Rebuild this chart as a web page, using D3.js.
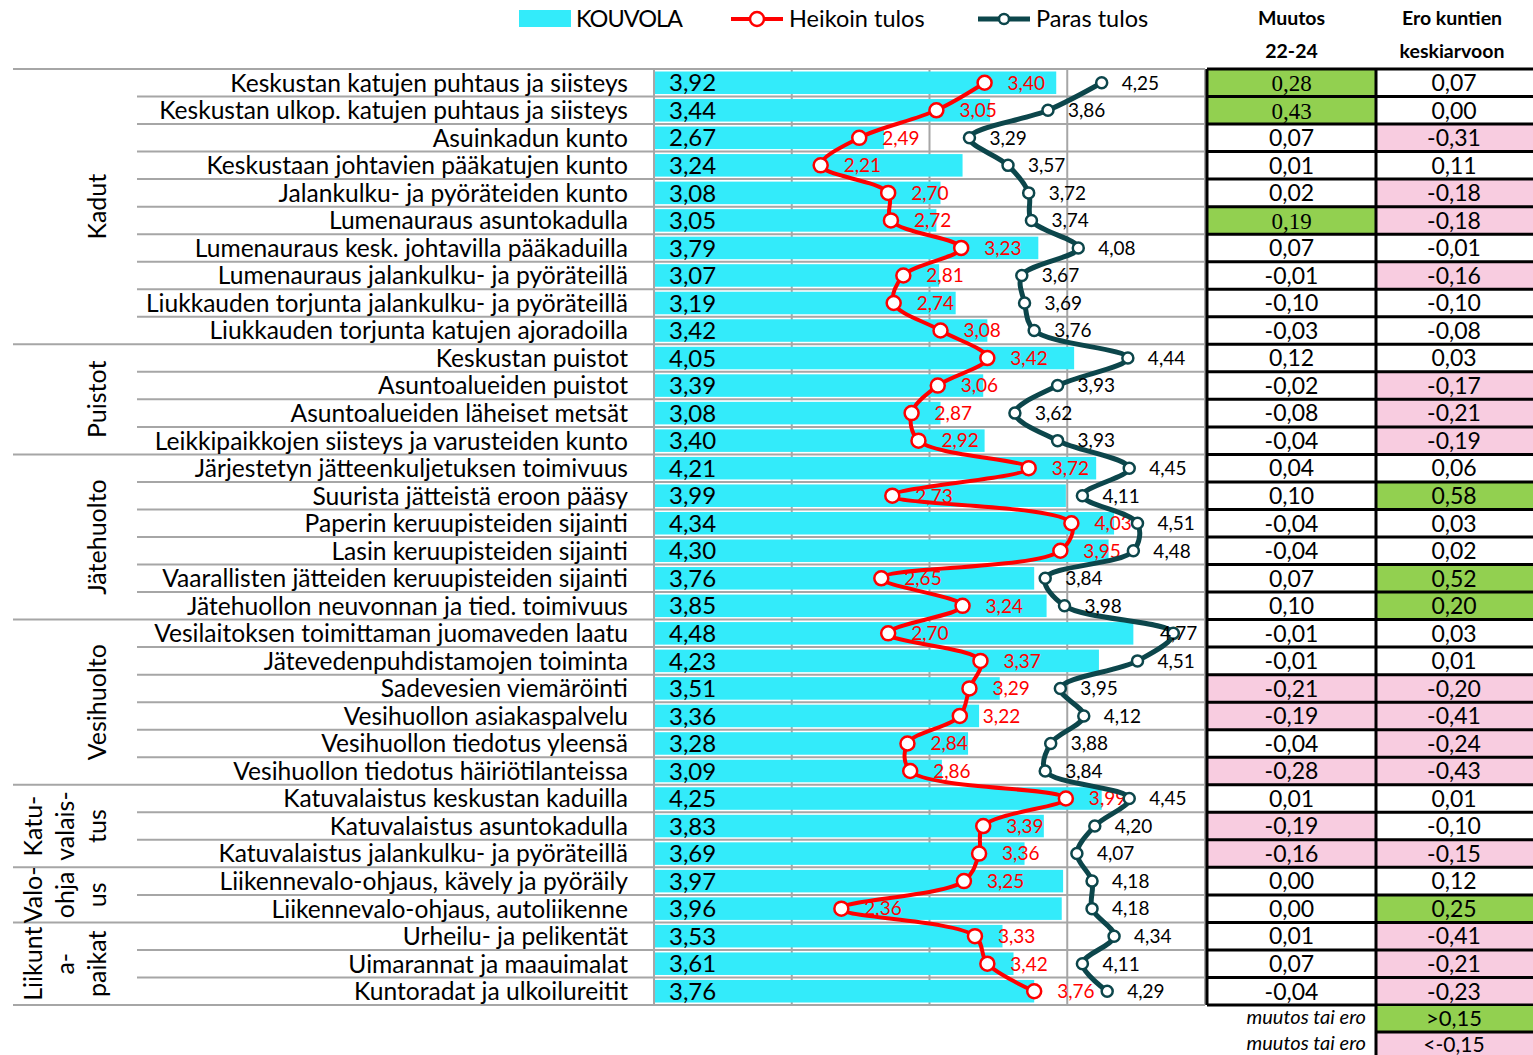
<!DOCTYPE html>
<html lang="fi">
<head>
<meta charset="utf-8">
<title>Kouvola – kadut, puistot, jätehuolto</title>
<script src="https://cdn.jsdelivr.net/npm/d3@7/dist/d3.min.js"></script>
<style>
  html, body { margin: 0; padding: 0; background: #fff; }
  svg { display: block; font-family: Lato, "Open Sans", sans-serif; }
</style>
</head>
<body>
<div id="chart"></div>
<script>
// ===== data =====
const categories = [
  "Keskustan katujen puhtaus ja siisteys",
  "Keskustan ulkop. katujen puhtaus ja siisteys",
  "Asuinkadun kunto",
  "Keskustaan johtavien pääkatujen kunto",
  "Jalankulku- ja pyöräteiden kunto",
  "Lumenauraus asuntokadulla",
  "Lumenauraus kesk. johtavilla pääkaduilla",
  "Lumenauraus jalankulku- ja pyöräteillä",
  "Liukkauden torjunta jalankulku- ja pyöräteillä",
  "Liukkauden torjunta katujen ajoradoilla",
  "Keskustan puistot",
  "Asuntoalueiden puistot",
  "Asuntoalueiden läheiset metsät",
  "Leikkipaikkojen siisteys ja varusteiden kunto",
  "Järjestetyn jätteenkuljetuksen toimivuus",
  "Suurista jätteistä eroon pääsy",
  "Paperin keruupisteiden sijainti",
  "Lasin keruupisteiden sijainti",
  "Vaarallisten jätteiden keruupisteiden sijainti",
  "Jätehuollon neuvonnan ja tied. toimivuus",
  "Vesilaitoksen toimittaman juomaveden laatu",
  "Jätevedenpuhdistamojen toiminta",
  "Sadevesien viemäröinti",
  "Vesihuollon asiakaspalvelu",
  "Vesihuollon tiedotus yleensä",
  "Vesihuollon tiedotus häiriötilanteissa",
  "Katuvalaistus keskustan kaduilla",
  "Katuvalaistus asuntokadulla",
  "Katuvalaistus jalankulku- ja pyöräteillä",
  "Liikennevalo-ohjaus, kävely ja pyöräily",
  "Liikennevalo-ohjaus, autoliikenne",
  "Urheilu- ja pelikentät",
  "Uimarannat ja maauimalat",
  "Kuntoradat ja ulkoilureitit"
];

const kouvola = [3.92, 3.44, 2.67, 3.24, 3.08, 3.05, 3.79, 3.07, 3.19, 3.42,
                 4.05, 3.39, 3.08, 3.40,
                 4.21, 3.99, 4.34, 4.30, 3.76, 3.85,
                 4.48, 4.23, 3.51, 3.36, 3.28, 3.09,
                 4.25, 3.83, 3.69,
                 3.97, 3.96,
                 3.53, 3.61, 3.76];

const heikoin = [3.40, 3.05, 2.49, 2.21, 2.70, 2.72, 3.23, 2.81, 2.74, 3.08,
                 3.42, 3.06, 2.87, 2.92,
                 3.72, 2.73, 4.03, 3.95, 2.65, 3.24,
                 2.70, 3.37, 3.29, 3.22, 2.84, 2.86,
                 3.99, 3.39, 3.36,
                 3.25, 2.36,
                 3.33, 3.42, 3.76];

const paras = [4.25, 3.86, 3.29, 3.57, 3.72, 3.74, 4.08, 3.67, 3.69, 3.76,
               4.44, 3.93, 3.62, 3.93,
               4.45, 4.11, 4.51, 4.48, 3.84, 3.98,
               4.77, 4.51, 3.95, 4.12, 3.88, 3.84,
               4.45, 4.20, 4.07,
               4.18, 4.18,
               4.34, 4.11, 4.29];

const muutos = [0.28, 0.43, 0.07, 0.01, 0.02, 0.19, 0.07, -0.01, -0.10, -0.03,
                0.12, -0.02, -0.08, -0.04,
                0.04, 0.10, -0.04, -0.04, 0.07, 0.10,
                -0.01, -0.01, -0.21, -0.19, -0.04, -0.28,
                0.01, -0.19, -0.16,
                0.00, 0.00,
                0.01, 0.07, -0.04];

const ero = [0.07, 0.00, -0.31, 0.11, -0.18, -0.18, -0.01, -0.16, -0.10, -0.08,
             0.03, -0.17, -0.21, -0.19,
             0.06, 0.58, 0.03, 0.02, 0.52, 0.20,
             0.03, 0.01, -0.20, -0.41, -0.24, -0.43,
             0.01, -0.10, -0.155,
             0.12, 0.25,
             -0.41, -0.21, -0.23];

// group label lines + row count
const groups = [
  { lines: ["Kadut"], n: 10 },
  { lines: ["Puistot"], n: 4 },
  { lines: ["Jätehuolto"], n: 6 },
  { lines: ["Vesihuolto"], n: 6 },
  { lines: ["Katu-", "valais-", "tus"], n: 3 },
  { lines: ["Valo-", "ohja", "us"], n: 2 },
  { lines: ["Liikunt", "a-", "paikat"], n: 3 }
];

const xTicks = [1, 2, 3, 4, 5];
const legendItems = ["KOUVOLA", "Heikoin tulos", "Paras tulos"];
const tableHeads = [["Muutos", "22-24"], ["Ero kuntien", "keskiarvoon"]];
const limit = 0.15;

(function () {
  const W = 1533, H = 1055;
  const top = 69, bottom = 1005;
  const plotL = 654, plotR = 1205;

  const CYAN = "#33EBFA", RED = "#FF0000", TEAL = "#0C464B";
  const GRID = "#A6A6A6", GREEN = "#92D050", PINK = "#F8CCE0";

  const fmt = v => d3.format(".2f")(v).replace(".", ",").replace("−", "-");

  const svg = d3.select("#chart").append("svg")
    .attr("width", W).attr("height", H)
    .attr("viewBox", `0 0 ${W} ${H}`);

  const x = d3.scaleLinear().domain([1, 5]).range([plotL, plotR]);
  const y = d3.scaleBand().domain(d3.range(categories.length)).range([top, bottom]);
  const bw = y.bandwidth();
  const cy = i => y(i) + bw / 2;

  // ---------- grid ----------
  const gGrid = svg.append("g");
  gGrid.selectAll("line.v").data(xTicks).join("line")
    .attr("x1", d => x(d)).attr("x2", d => x(d))
    .attr("y1", top).attr("y2", bottom)
    .attr("stroke", GRID).attr("stroke-width", 2);

  // group boundaries (long) & row lines (short)
  const groupStarts = [];
  let acc = 0;
  groups.forEach(g => { groupStarts.push(acc); acc += g.n; });
  const boundarySet = new Set(groupStarts.concat([categories.length]));

  const rowEdges = d3.range(categories.length + 1);
  gGrid.selectAll("line.h").data(rowEdges).join("line")
    .attr("x1", d => boundarySet.has(d) ? 13 : 137)
    .attr("x2", plotR)
    .attr("y1", d => top + d * bw).attr("y2", d => top + d * bw)
    .attr("stroke", GRID).attr("stroke-width", 2);

  // ---------- bars ----------
  svg.append("g").selectAll("rect").data(kouvola).join("rect")
    .attr("x", x(1) + 1)
    .attr("y", (d, i) => y(i) + 2.5)
    .attr("width", d => x(d) - x(1) - 1)
    .attr("height", bw - 5)
    .attr("fill", CYAN);

  svg.append("g").selectAll("text").data(kouvola).join("text")
    .attr("x", 669).attr("y", (d, i) => cy(i))
    .attr("dy", "0.36em")
    .attr("font-size", 24)
    .attr("fill", "#000")
    .text(d => fmt(d));

  // ---------- row labels ----------
  svg.append("g").selectAll("text").data(categories).join("text")
    .attr("x", 628).attr("y", (d, i) => cy(i))
    .attr("dy", "0.36em")
    .attr("text-anchor", "end")
    .attr("font-size", 24.6)
    .attr("fill", "#000")
    .text(d => d);

  // ---------- group labels ----------
  const lineX = { 1: [97], 3: [33, 65, 97] };
  groups.forEach((g, gi) => {
    const s = groupStarts[gi];
    const mid = top + (s + g.n / 2) * bw;
    const xs = lineX[g.lines.length];
    g.lines.forEach((t, li) => {
      svg.append("text")
        .attr("transform", `translate(${xs[li]},${mid}) rotate(-90)`)
        .attr("text-anchor", "middle")
        .attr("dy", "0.36em")
        .attr("font-size", 25)
        .text(t);
    });
  });

  // ---------- lines ----------
  const line = d3.line()
    .x(d => x(d.v)).y(d => cy(d.i))
    .curve(d3.curveCatmullRom.alpha(0.5));

  function drawSeries(vals, color, width, r, labelDx, labelColor) {
    const pts = vals.map((v, i) => ({ v, i }));
    const g = svg.append("g");
    g.append("path").datum(pts)
      .attr("d", line)
      .attr("fill", "none")
      .attr("stroke", color)
      .attr("stroke-width", width)
      .attr("stroke-linejoin", "round");
    g.selectAll("circle").data(pts).join("circle")
      .attr("cx", d => x(d.v)).attr("cy", d => cy(d.i))
      .attr("r", r)
      .attr("fill", "#fff")
      .attr("stroke", color)
      .attr("stroke-width", 2.5);
    // labels right of marker, pushed back inside the plot if they would spill over
    g.selectAll("text").data(pts).join("text")
      .attr("x", d => Math.min(x(d.v) + labelDx, plotR - 45))
      .attr("y", d => cy(d.i))
      .attr("dy", "0.36em")
      .attr("font-size", 19)
      .attr("fill", labelColor)
      .text(d => fmt(d.v));
  }
  drawSeries(heikoin, RED, 4, 7, 23, RED);
  drawSeries(paras, TEAL, 5, 5.5, 20, "#000");

  // ---------- legend ----------
  const lg = svg.append("g").attr("font-size", 23.5);
  lg.append("rect").attr("x", 519).attr("y", 10).attr("width", 52).attr("height", 17).attr("fill", CYAN);
  lg.append("text").attr("x", 576).attr("y", 27).attr("textLength", 107).text(legendItems[0]);

  [[731, RED, 4, 7, legendItems[1]], [978, TEAL, 5, 5, legendItems[2]]].forEach(([lx, c, w, r, t]) => {
    lg.append("line").attr("x1", lx).attr("x2", lx + 52).attr("y1", 19).attr("y2", 19)
      .attr("stroke", c).attr("stroke-width", w);
    lg.append("circle").attr("cx", lx + 26).attr("cy", 19).attr("r", r)
      .attr("fill", "#fff").attr("stroke", c).attr("stroke-width", 2.5);
    lg.append("text").attr("x", lx + 58).attr("y", 27).text(t);
  });

  // ---------- table ----------
  const cols = [
    { x0: 1207, x1: 1376, vals: muutos, serifHi: true },
    { x0: 1376, x1: 1536, vals: ero, serifHi: false }
  ];
  const cellFill = v => v >= limit ? GREEN : (v <= -limit ? PINK : "#fff");

  cols.forEach((c, ci) => {
    const g = svg.append("g");
    g.selectAll("rect").data(c.vals).join("rect")
      .attr("x", c.x0).attr("y", (d, i) => y(i))
      .attr("width", c.x1 - c.x0).attr("height", bw)
      .attr("fill", d => cellFill(d));
    g.selectAll("text").data(c.vals).join("text")
      .attr("x", (c.x0 + c.x1) / 2 + (ci === 1 ? -2 : 0))
      .attr("y", (d, i) => cy(i))
      .attr("dy", "0.36em")
      .attr("text-anchor", "middle")
      .attr("font-size", 23)
      .attr("font-family", d => (c.serifHi && d >= limit) ? "'Liberation Serif', serif" : null)
      .text(d => fmt(d));

    // header
    tableHeads[ci].forEach((t, li) => {
      svg.append("text")
        .attr("x", (c.x0 + c.x1) / 2 + (ci === 1 ? -4 : 0))
        .attr("y", 25 + li * 33)
        .attr("text-anchor", "middle")
        .attr("font-size", 19.5)
        .attr("font-weight", "bold")
        .text(t);
    });
  });

  // table borders
  const tb = svg.append("g").attr("stroke", "#000").attr("stroke-width", 3);
  tb.selectAll("line.h").data(rowEdges).join("line")
    .attr("x1", 1207).attr("x2", W)
    .attr("y1", d => top + d * bw).attr("y2", d => top + d * bw);
  [1207, 1376].forEach(vx => {
    tb.append("line").attr("x1", vx).attr("x2", vx).attr("y1", top).attr("y2", bottom);
  });

  // ---------- bottom legend ----------
  const legVals = [">0,15", "<-0,15"];
  const legFill = [GREEN, PINK];
  legVals.forEach((t, i) => {
    const y0 = bottom + 1 + i * 26;
    svg.append("rect").attr("x", 1377).attr("y", y0).attr("width", W - 1377).attr("height", 25)
      .attr("fill", legFill[i]);
    svg.append("text").attr("x", 1454).attr("y", y0 + 12).attr("dy", "0.36em")
      .attr("text-anchor", "middle").attr("font-size", i ? 21 : 22).text(t);
    svg.append("text").attr("x", 1366).attr("y", y0 + 11).attr("dy", "0.36em")
      .attr("text-anchor", "end").attr("font-size", 20).attr("font-style", "italic")
      .text("muutos tai ero");
  });
  svg.append("line").attr("x1", 1377).attr("x2", W).attr("y1", bottom + 27).attr("y2", bottom + 27)
    .attr("stroke", "#000").attr("stroke-width", 3);
  svg.append("line").attr("x1", 1376).attr("x2", 1376).attr("y1", bottom).attr("y2", H)
    .attr("stroke", "#000").attr("stroke-width", 3);
})();
</script>
</body>
</html>
